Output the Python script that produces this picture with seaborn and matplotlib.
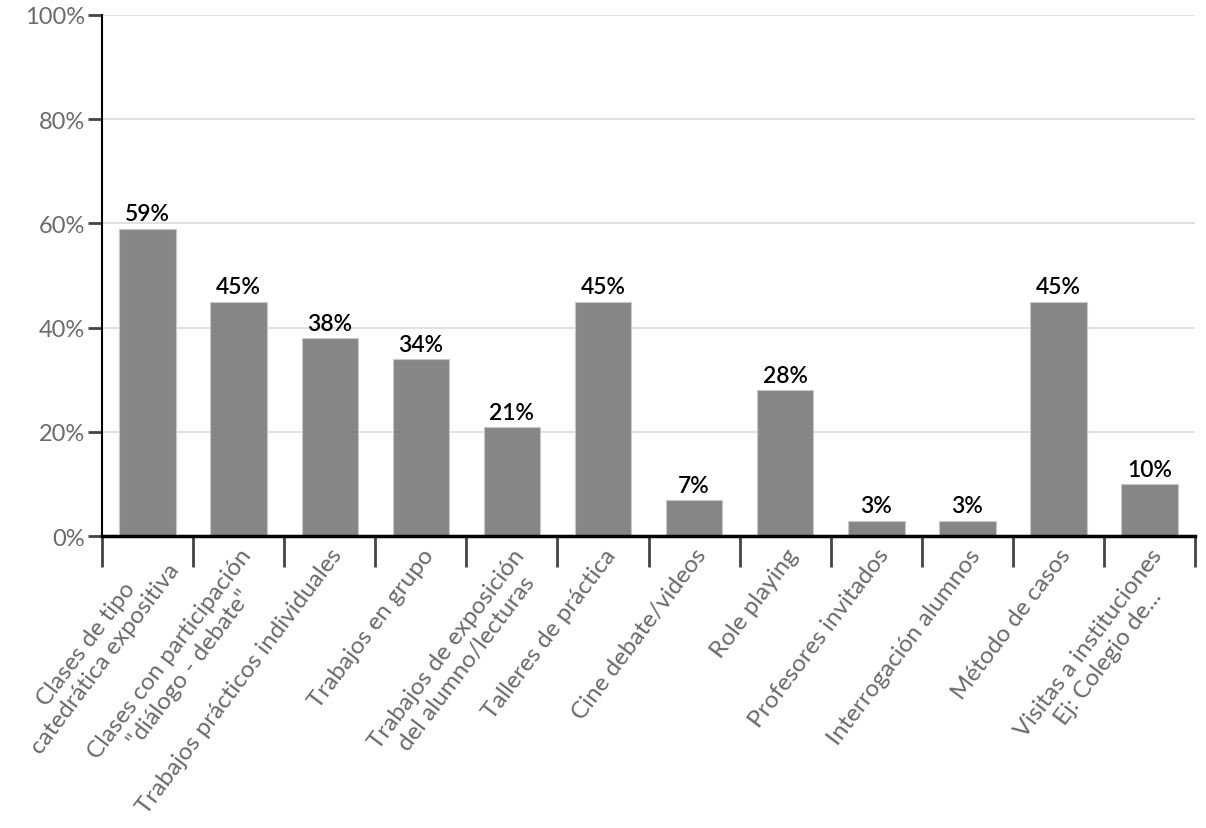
import numpy as np
import pandas as pd
import matplotlib
matplotlib.use('Agg')
import matplotlib.pyplot as plt
import seaborn as sns
from matplotlib.ticker import FixedLocator

# data
categorias = [
    'Clases de tipo\ncatedrática expositiva',
    'Clases con participación\n"diálogo - debate"',
    'Trabajos prácticos individuales',
    'Trabajos en grupo',
    'Trabajos de exposición\ndel alumno/lecturas',
    'Talleres de práctica',
    'Cine debate/videos',
    'Role playing',
    'Profesores invitados',
    'Interrogación alumnos',
    'Método de casos',
    'Visitas a instituciones\nEj: Colegio de...',
]
porcentajes = [59, 45, 38, 34, 21, 45, 7, 28, 3, 3, 45, 10]
etiquetas = [f'{v}%' for v in porcentajes]
yticks = [0, 20, 40, 60, 80, 100]

sns.set_style('white')
plt.rcParams['font.family'] = ['Lato', 'DejaVu Sans']

df = pd.DataFrame({'cat': categorias, 'pct': porcentajes})

fig = plt.figure(figsize=(12.06, 8.29), dpi=100)
ax = fig.add_axes([0.0846, 0.352, 0.9064, 0.6288])

sns.barplot(data=df, x='cat', y='pct', color='#868686', saturation=1,
            width=0.62, edgecolor='#c8c8c8', linewidth=0.8, ax=ax)

ax.bar_label(ax.containers[0], labels=etiquetas, padding=3,
             fontsize=16.5, color='black', fontweight='semibold')

ax.set_ylim(0, 100)
ax.set_xlim(-0.5, len(categorias) - 0.5)
ax.set_yticks(yticks)
ax.set_yticklabels([f'{t}%' for t in yticks], fontsize=17, color='#6a6a6a')
ax.yaxis.grid(True, color='#dcdcdc', linewidth=1.2)
ax.set_axisbelow(True)

# labels at band centres, tick marks at band edges
ax.tick_params(axis='x', which='major', bottom=True, length=0, pad=6)
ax.xaxis.set_minor_locator(FixedLocator(np.arange(-0.5, len(categorias), 1)))
ax.tick_params(axis='x', which='minor', bottom=True, length=22, width=2,
               color='#444444')
ax.tick_params(axis='y', left=True, length=10, width=2, color='#444444', pad=2)
for lab in ax.get_xticklabels():
    lab.set_rotation(53)
    lab.set_ha('right')
    lab.set_rotation_mode('anchor')
    lab.set_multialignment('center')
    lab.set_fontsize(17.5)
    lab.set_color('#6a6a6a')

ax.set_xlabel('')
ax.set_ylabel('')
for s in ['top', 'right']:
    ax.spines[s].set_visible(False)
ax.spines['left'].set_color('black')
ax.spines['left'].set_linewidth(1.5)
ax.spines['bottom'].set_color('black')
ax.spines['bottom'].set_linewidth(2.5)

fig.savefig('out.png', dpi=100)
